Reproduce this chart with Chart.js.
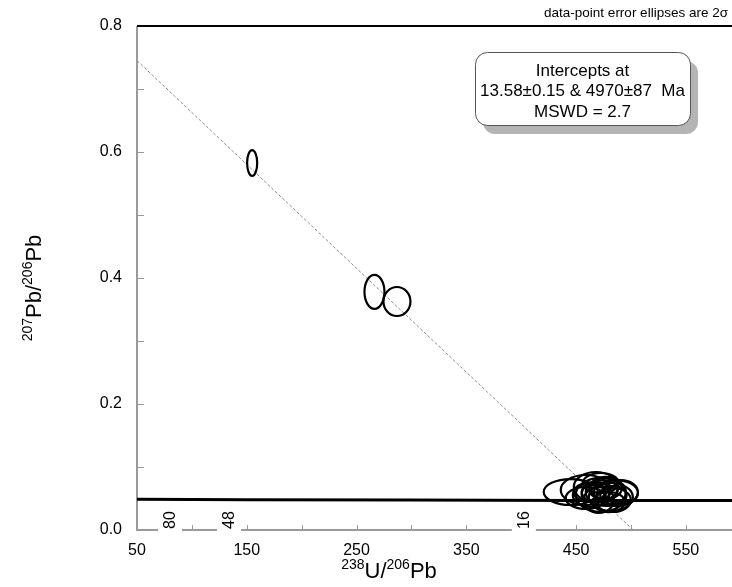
<!DOCTYPE html>
<html>
<head>
<meta charset="utf-8">
<script src="https://cdn.jsdelivr.net/npm/chart.js@4"></script>
<style>
  body { margin: 0; background: #fff; }
</style>
</head>
<body>
<canvas id="chart" width="732" height="587"></canvas>
<script>
// ellipse centres (238U/206Pb, 207Pb/206Pb) and their 2-sigma half axes
const ellX  = [154.9, 266.3, 286.8,
               445.1, 458.8, 468.0, 472.5, 477.1, 481.6, 486.2, 483.5,
               470.7, 463.4, 477.1, 490.8, 468.0, 479.8, 458.8, 472.5,
               466.0, 475.0, 484.0, 462.0];
const ellY  = [0.5825, 0.378, 0.3627,
               0.0603, 0.0635, 0.0683, 0.0556, 0.0603, 0.0524, 0.0587, 0.0476,
               0.0476, 0.0556, 0.0667, 0.0603, 0.0603, 0.0444, 0.0508, 0.0746,
               0.0580, 0.0640, 0.0555, 0.0600];
const ellDX = [4.6, 9.1, 12.3,
               24.6, 22.8, 20.1, 22.8, 18.3, 20.1, 20.1, 16.4,
               13.7, 16.4, 14.6, 15.5, 12.8, 14.6, 18.3, 16.4,
               11.0, 13.0, 12.0, 14.0];
const ellDY = [0.0206, 0.027, 0.023,
               0.0206, 0.0238, 0.0238, 0.027, 0.0222, 0.0222, 0.0206, 0.019,
               0.0206, 0.019, 0.0175, 0.019, 0.0159, 0.0159, 0.0175, 0.0159,
               0.0140, 0.0150, 0.0145, 0.0150];

// concordia
const concX = [50, 150, 300, 450, 592];
const concY = [0.0490, 0.0482, 0.0476, 0.0470, 0.0467];

// discordia through the two intercepts
const discX = [50, 502];
const discY = [0.745, 0];

// age marks on the concordia (Ma) and their 238U/206Pb positions
const ageLabels = ["80", "48", "16"];
const ageX = [80.1, 133.8, 402.4];

const xTickLabels = [50, 150, 250, 350, 450, 550];
const yTickLabels = [0.0, 0.2, 0.4, 0.6, 0.8];

const boxLines = ["Intercepts at", "13.58\u00B10.15 & 4970\u00B187  Ma", "MSWD = 2.7"];
const noteText = "data-point error ellipses are 2\u03C3";

const FONT = "Arial, 'Liberation Sans', sans-serif";

// draws text made of normal and superscript pieces
function drawParts(ctx, parts, x, y, size, supSize) {
  let total = 0;
  parts.forEach(p => {
    ctx.font = (p.sup ? supSize : size) + "px " + FONT;
    p.w = ctx.measureText(p.t).width;
    total += p.w;
  });
  let cx = x - total / 2;
  ctx.textAlign = "left";
  ctx.textBaseline = "alphabetic";
  parts.forEach(p => {
    ctx.font = (p.sup ? supSize : size) + "px " + FONT;
    ctx.fillText(p.t, cx, p.sup ? y - size * 0.42 : y);
    cx += p.w;
  });
}

function roundRect(ctx, x, y, w, h, r) {
  ctx.beginPath();
  ctx.moveTo(x + r, y);
  ctx.arcTo(x + w, y, x + w, y + h, r);
  ctx.arcTo(x + w, y + h, x, y + h, r);
  ctx.arcTo(x, y + h, x, y, r);
  ctx.arcTo(x, y, x + w, y, r);
  ctx.closePath();
}

const extras = {
  id: "extras",
  beforeDatasetsDraw(chart) {
    const ctx = chart.ctx;
    const a = chart.chartArea;
    const xs = chart.scales.x, ys = chart.scales.y;
    ctx.save();
    // axis lines
    ctx.strokeStyle = "#9a9a9a";
    ctx.lineWidth = 2;
    ctx.beginPath();
    ctx.moveTo(a.left, a.top);
    ctx.lineTo(a.left, a.bottom);
    ctx.lineTo(a.right, a.bottom);
    ctx.stroke();
    // inward ticks
    ctx.lineWidth = 1;
    ctx.beginPath();
    xs.ticks.forEach(t => {
      if ((t.value - 50) % 50 !== 0) return;
      const px = Math.round(xs.getPixelForValue(t.value)) + 0.5;
      ctx.moveTo(px, a.bottom);
      ctx.lineTo(px, a.bottom - 5);
    });
    ys.ticks.forEach(t => {
      const py = Math.round(ys.getPixelForValue(t.value)) + 0.5;
      ctx.moveTo(a.left, py);
      ctx.lineTo(a.left + 7, py);
    });
    ctx.stroke();
    // top frame line
    ctx.strokeStyle = "#000";
    ctx.lineWidth = 2;
    ctx.beginPath();
    ctx.moveTo(a.left, a.top);
    ctx.lineTo(chart.width, a.top);
    ctx.stroke();
    ctx.restore();
  },
  afterDatasetsDraw(chart) {
    const ctx = chart.ctx;
    const a = chart.chartArea;
    const xs = chart.scales.x, ys = chart.scales.y;
    ctx.save();

    // error ellipses
    ctx.save();
    ctx.beginPath();
    ctx.rect(a.left, a.top, a.right - a.left, a.bottom - a.top);
    ctx.clip();
    ctx.strokeStyle = "#000";
    ctx.lineWidth = 2.2;
    ellX.forEach((x, i) => {
      const cx = xs.getPixelForValue(x);
      const cy = ys.getPixelForValue(ellY[i]);
      const rx = Math.abs(xs.getPixelForValue(x + ellDX[i]) - cx);
      const ry = Math.abs(ys.getPixelForValue(ellY[i] + ellDY[i]) - cy);
      ctx.beginPath();
      ctx.ellipse(cx, cy, rx, ry, 0, 0, Math.PI * 2);
      ctx.stroke();
    });
    ctx.restore();

    // concordia age labels sitting on the x axis
    ctx.font = "16px " + FONT;
    ageLabels.forEach((lab, i) => {
      const px = xs.getPixelForValue(ageX[i]);
      const w = ctx.measureText(lab).width;
      ctx.fillStyle = "#fff";
      ctx.fillRect(px - 12, a.bottom - w - 4, 24, w + 6);
      ctx.save();
      ctx.translate(px, a.bottom - 1);
      ctx.rotate(-Math.PI / 2);
      ctx.fillStyle = "#000";
      ctx.textAlign = "left";
      ctx.textBaseline = "middle";
      ctx.fillText(lab, 0, 1);
      ctx.restore();
    });

    // intercept box with shadow
    const bx = 475, by = 52, bw = 215, bh = 73;
    ctx.fillStyle = "#b4b4b4";
    roundRect(ctx, bx + 8, by + 9, bw, bh, 12);
    ctx.fill();
    ctx.fillStyle = "#fff";
    ctx.strokeStyle = "#555";
    ctx.lineWidth = 1;
    roundRect(ctx, bx + 0.5, by + 0.5, bw, bh, 12);
    ctx.fill();
    ctx.stroke();
    ctx.fillStyle = "#000";
    ctx.font = "17px " + FONT;
    ctx.textAlign = "center";
    ctx.textBaseline = "middle";
    boxLines.forEach((l, i) => ctx.fillText(l, bx + bw / 2, 71 + i * 20.5));

    // note above the frame
    ctx.font = "13.5px " + FONT;
    ctx.textAlign = "right";
    ctx.fillText(noteText, 728, 13);

    // axis titles with superscripts
    drawParts(ctx, [{t: "238", sup: true}, {t: "U/"}, {t: "206", sup: true}, {t: "Pb"}], 389, 578, 22, 14);
    ctx.save();
    ctx.translate(41, 288);
    ctx.rotate(-Math.PI / 2);
    drawParts(ctx, [{t: "207", sup: true}, {t: "Pb/"}, {t: "206", sup: true}, {t: "Pb"}], 0, 0, 22, 14);
    ctx.restore();

    ctx.restore();
  }
};

new Chart(document.getElementById("chart"), {
  type: "scatter",
  data: {
    datasets: [
      {
        label: "discordia",
        data: discX.map((x, i) => ({x: x, y: discY[i]})),
        showLine: true,
        borderColor: "#8c8c8c",
        borderWidth: 1,
        borderDash: [3, 2],
        pointRadius: 0
      },
      {
        label: "concordia",
        data: concX.map((x, i) => ({x: x, y: concY[i]})),
        showLine: true,
        borderColor: "#000",
        borderWidth: 3,
        pointRadius: 0
      }
    ]
  },
  options: {
    responsive: false,
    animation: false,
    layout: { padding: { top: 26, left: 0, right: 0, bottom: 0 } },
    plugins: { legend: { display: false }, tooltip: { enabled: false } },
    scales: {
      x: {
        type: "linear",
        min: 50,
        max: 592,
        grid: { display: false, drawTicks: false },
        border: { display: false },
        ticks: {
          stepSize: 50,
          autoSkip: false,
          maxRotation: 0,
          padding: 11,
          color: "#000",
          font: { family: FONT, size: 16 },
          callback: v => xTickLabels.includes(v) ? String(v) : ""
        },
        afterFit: s => { s.height = 57; s.paddingLeft = 0; s.paddingRight = 0; }
      },
      y: {
        type: "linear",
        min: 0,
        max: 0.8,
        grid: { display: false, drawTicks: false },
        border: { display: false },
        ticks: {
          stepSize: 0.1,
          padding: 15,
          color: "#000",
          font: { family: FONT, size: 16 },
          callback: v => yTickLabels.some(t => Math.abs(t - v) < 1e-6) ? v.toFixed(1) : ""
        },
        afterFit: s => { s.width = 137; }
      }
    }
  },
  plugins: [extras]
});
</script>
</body>
</html>
